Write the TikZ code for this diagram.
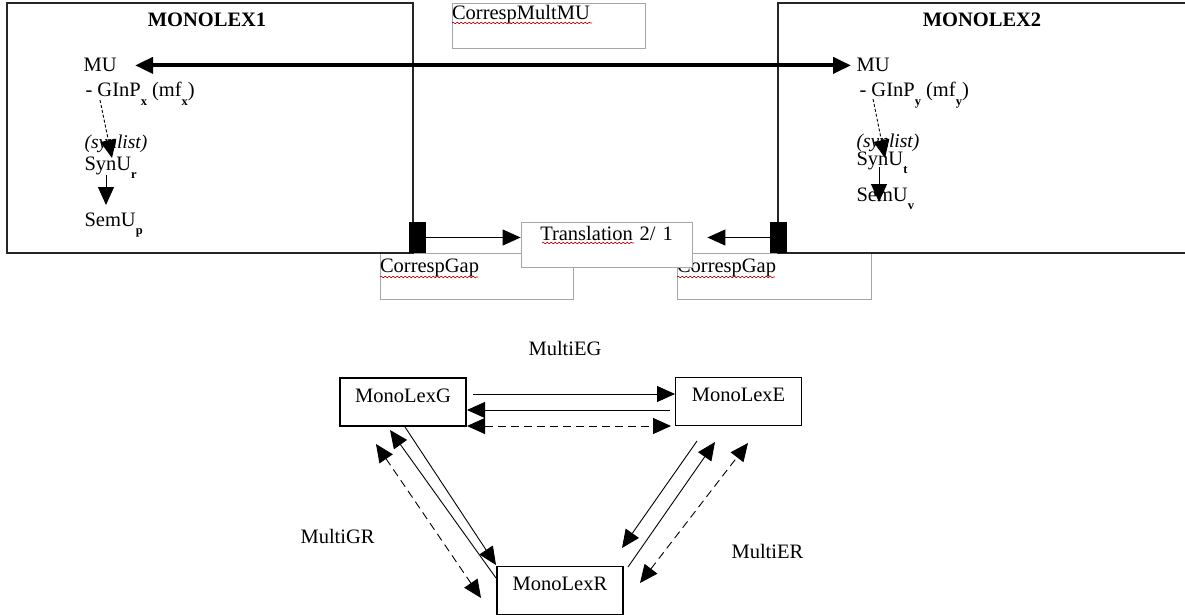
\documentclass[tikz,border=0pt]{standalone}
\usepackage{fontspec}
\setmainfont{Liberation Serif}
\usetikzlibrary{arrows.meta,decorations.pathmorphing}
\newcommand{\lowsub}[1]{\raisebox{-0.42em}{\fontsize{12.5}{12}\selectfont\bfseries #1}}

\tikzset{
  monobox/.style={draw=black!85,line width=1.3pt,inner sep=0pt},
  notebox/.style={draw=black!35,line width=0.8pt,inner xsep=0pt,inner ysep=0pt,
    align=left,text height=10pt},
  lexbox/.style={draw,line width=1.3pt,minimum width=126pt,minimum height=48pt,
    inner sep=0pt,text height=10pt,text depth=10pt},
  gapmark/.style={fill=black,minimum width=17pt,minimum height=31pt,inner sep=0pt},
  wavy/.style={red!75!black,line width=0.6pt,decorate,
    decoration={snake,amplitude=0.8pt,segment length=4pt}},
  tip/.style={-{Triangle[length=18pt,width=16pt]}},
  bothtips/.style={{Triangle[length=18pt,width=16pt]}-{Triangle[length=18pt,width=16pt]}},
  link/.style={line width=0.9pt},
  dashlink/.style={line width=0.9pt,dash pattern=on 8pt off 5pt}
}

\begin{document}
\begin{tikzpicture}[x=1pt,y=-1pt,every node/.style={font=\fontsize{20.5}{24}\selectfont}]
  \useasboundingbox (0,0) rectangle (1185,615);

  % Comment boxes of the word processor, drawn first.
  \node[notebox,text width=193pt,minimum height=45pt,text depth=21pt]
    (multmu) at (548.5,25.5) {CorrespMultMU};
  \draw[wavy] (452,23) -- (592,23);
  \node[notebox,text width=193pt,minimum height=46pt,text depth=18pt]
    (gapboxL) at (476.5,276) {CorrespGap};
  \draw[wavy] (380,277) -- (478,277);
  \node[notebox,text width=194pt,minimum height=46pt,text depth=18pt]
    (gapboxR) at (774,276) {CorrespGap};
  \draw[wavy] (677,277) -- (775,277);

  % The two monolingual lexicons.
  \node[monobox,minimum width=406pt,minimum height=250pt] (mono1) at (210,128) {};
  \node[monobox,minimum width=412pt,minimum height=250pt] (mono2) at (984,128) {};
  \node[anchor=base,font=\fontsize{20.5}{24}\selectfont\bfseries] (title1) at (207,27) {MONOLEX1};
  \node[anchor=base,font=\fontsize{20.5}{24}\selectfont\bfseries] (title2) at (982,27) {MONOLEX2};

  % Translation box lies on top of the right gap comment.
  \node[notebox,fill=white,align=center,text width=171pt,minimum height=45pt,text depth=19pt]
    (trans) at (606.5,244.5) {Translation 2/ 1};
  \draw[wavy] (542,243) -- (634,243);

  \node[gapmark] (gapL) at (417.5,237.5) {};
  \node[gapmark] (gapR) at (778.5,237.5) {};
  \draw[link,tip] (gapL.east) -- (gapL.east -| trans.west);
  \draw[link,tip] (gapR.west) -- ([xshift=15pt]gapR.west -| trans.east);

  % Entries of MONOLEX1.
  \node[anchor=base west] (mu1) at (80,72) {MU};
  \node[anchor=base west] (ginp1) at (82,97) {- GInP\lowsub{x} (mf\lowsub{x})};
  \node[anchor=base west,font=\fontsize{19.5}{24}\selectfont\itshape] (list1) at (81,148) {(synlist)};
  \node[anchor=base west] (synu1) at (81,170) {SynU\lowsub{r}};
  \node[anchor=base west] (semu1) at (81,226) {SemU\lowsub{p}};
  \coordinate (listL) at (100,100);
  \coordinate (synL) at (112,158);
  \coordinate (synLb) at (106,175);
  \coordinate (semL) at (106,205);
  \draw[link,densely dashed,tip] (listL) -- (synL);
  \draw[link,tip] (synLb) -- (semL);

  % Entries of MONOLEX2.
  \node[anchor=base west] (mu2) at (853,72) {MU};
  \node[anchor=base west] (ginp2) at (856,97) {- GInP\lowsub{y} (mf\lowsub{y})};
  \node[anchor=base west,font=\fontsize{19.5}{24}\selectfont\itshape] (list2) at (853,147) {(synlist)};
  \node[anchor=base west] (synu2) at (853,165) {SynU\lowsub{t}};
  \node[anchor=base west] (semu2) at (853,201) {SemU\lowsub{v}};
  \coordinate (listR) at (873,99);
  \coordinate (synR) at (885,158);
  \coordinate (synRb) at (879,167);
  \coordinate (semR) at (879,202);
  \draw[link,densely dashed,tip] (listR) -- (synR);
  \draw[link,tip] (synRb) -- (semR);

  % Correspondence of the multiword units.
  \draw[line width=4pt,bothtips,shorten <=15pt,shorten >=2pt] (mu1.east) -- (mu2.west);

  % Triangle of the three lexicons.
  \node[lexbox] (G) at (403,402) {MonoLexG};
  \node[lexbox] (E) at (738.5,401.5) {MonoLexE};
  \node[lexbox] (R) at (560,590.5) {MonoLexR};
  \node[anchor=base west] (multiEG) at (525,355) {MultiEG};
  \node[anchor=base west] (multiGR) at (297,543) {MultiGR};
  \node[anchor=base west] (multiER) at (728,558) {MultiER};

  % End points of the links, read off the boxes.
  \coordinate (ge1) at (473,394);   \coordinate (ge2) at (675,394);
  \coordinate (eg1) at (670,410);   \coordinate (eg2) at (467,410);
  \coordinate (ged1) at (467,426);  \coordinate (ged2) at (671,426);
  \coordinate (gr1) at (405,427);   \coordinate (gr2) at (496,565);
  \coordinate (rg1) at (496,578);   \coordinate (rg2) at (390,430);
  \coordinate (grd1) at (376,444);  \coordinate (grd2) at (481,598);
  \coordinate (er1) at (697,441);   \coordinate (er2) at (622,548);
  \coordinate (re1) at (628,567);   \coordinate (re2) at (715,442);
  \coordinate (erd1) at (640,583);  \coordinate (erd2) at (748,443);

  \draw[link,tip] (ge1) -- (ge2);
  \draw[link,tip] (eg1) -- (eg2);
  \draw[dashlink,bothtips] (ged1) -- (ged2);
  \draw[link,tip] (gr1) -- (gr2);
  \draw[link,tip] (rg1) -- (rg2);
  \draw[dashlink,bothtips] (grd1) -- (grd2);
  \draw[link,tip] (er1) -- (er2);
  \draw[link,tip] (re1) -- (re2);
  \draw[dashlink,bothtips] (erd1) -- (erd2);
\end{tikzpicture}
\end{document}
